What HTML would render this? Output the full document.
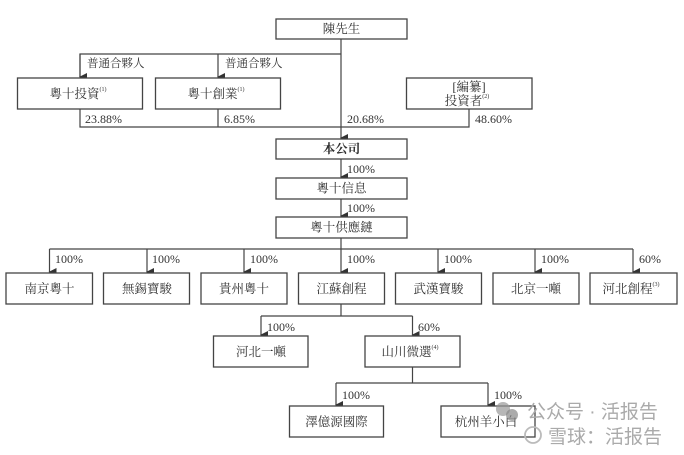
<!DOCTYPE html>
<html><head><meta charset="utf-8"><style>
html,body{margin:0;padding:0;background:#fff;}
svg{display:block;}
text{font-family:"Liberation Serif","Noto Serif CJK SC",serif;fill:#333;}
.b{fill:#fff;stroke:#444;stroke-width:1.3;}
.l{stroke:#444;stroke-width:1.2;fill:none;}
.t{font-size:12.5px;text-anchor:middle;dominant-baseline:central;}
.p{font-size:12px;}
.s{font-size:6px;}
.w{font-family:'Liberation Sans','Noto Sans CJK SC',sans-serif;font-size:19px;fill:#aaa;}
</style></head><body>
<svg width="684" height="455" viewBox="0 0 684 455" xmlns="http://www.w3.org/2000/svg">
<defs><marker id="a" markerWidth="8" markerHeight="8" refX="4" refY="7" orient="auto" markerUnits="userSpaceOnUse"><path d="M0,0 L8,0 L4,8 z" fill="#333"/></marker></defs>

<rect class="b" x="276" y="19" width="131" height="20"/>
<text class="t" x="341.5" y="29">陳先生</text>
<line class="l" x1="341" y1="39" x2="341" y2="138" marker-end="url(#a)"/>
<polyline class="l" points="80,77 80,54 341,54"/>
<line class="l" x1="80" y1="54" x2="80" y2="77" marker-end="url(#a)"/>
<line class="l" x1="218" y1="54" x2="218" y2="77" marker-end="url(#a)"/>
<text x="87" y="67" style="font-size:11.5px">普通合夥人</text>
<text x="225" y="67" style="font-size:11.5px">普通合夥人</text>

<rect class="b" x="17.5" y="78" width="125" height="31"/>
<text class="t" x="78" y="94">粵十投資<tspan class="s" dy="-4">(1)</tspan></text>
<rect class="b" x="155.5" y="78" width="125" height="31"/>
<text class="t" x="216" y="94">粵十創業<tspan class="s" dy="-4">(1)</tspan></text>
<rect class="b" x="406.5" y="78" width="125.5" height="31"/>
<text class="t" x="469" y="87">[編纂]</text>
<text class="t" x="467" y="101">投資者<tspan class="s" dy="-4">(2)</tspan></text>

<polyline class="l" points="80,109 80,127 469,127 469,109"/>
<line class="l" x1="218" y1="109" x2="218" y2="127"/>
<text class="p" x="85" y="123">23.88%</text>
<text class="p" x="224" y="123">6.85%</text>
<text class="p" x="347" y="123">20.68%</text>
<text class="p" x="475" y="123">48.60%</text>

<rect class="b" x="276" y="139" width="131" height="20"/>
<text class="t" x="341.5" y="149" style="font-weight:bold">本公司</text>
<line class="l" x1="341" y1="159" x2="341" y2="177" marker-end="url(#a)"/>
<text class="p" x="347" y="173">100%</text>
<rect class="b" x="276" y="178" width="131" height="21"/>
<text class="t" x="341.5" y="188.5">粵十信息</text>
<line class="l" x1="341" y1="199" x2="341" y2="216" marker-end="url(#a)"/>
<text class="p" x="347" y="212">100%</text>
<rect class="b" x="276" y="217" width="131" height="21"/>
<text class="t" x="341.5" y="227.5">粵十供應鏈</text>

<line class="l" x1="341" y1="238" x2="341" y2="249"/>
<line class="l" x1="49.5" y1="249" x2="633" y2="249"/>
<line class="l" x1="49.5" y1="249" x2="49.5" y2="272" marker-end="url(#a)"/>
<line class="l" x1="147" y1="249" x2="147" y2="272" marker-end="url(#a)"/>
<line class="l" x1="244" y1="249" x2="244" y2="272" marker-end="url(#a)"/>
<line class="l" x1="341" y1="249" x2="341" y2="272" marker-end="url(#a)"/>
<line class="l" x1="438" y1="249" x2="438" y2="272" marker-end="url(#a)"/>
<line class="l" x1="535" y1="249" x2="535" y2="272" marker-end="url(#a)"/>
<line class="l" x1="633" y1="249" x2="633" y2="272" marker-end="url(#a)"/>
<text class="p" x="55" y="263">100%</text>
<text class="p" x="152" y="263">100%</text>
<text class="p" x="250" y="263">100%</text>
<text class="p" x="347" y="263">100%</text>
<text class="p" x="444" y="263">100%</text>
<text class="p" x="541" y="263">100%</text>
<text class="p" x="639" y="263">60%</text>

<rect class="b" x="6" y="273" width="86.5" height="31"/>
<text class="t" x="49.5" y="289">南京粵十</text>
<rect class="b" x="103.5" y="273" width="86" height="31"/>
<text class="t" x="147" y="289">無錫寶駿</text>
<rect class="b" x="201" y="273" width="86" height="31"/>
<text class="t" x="244" y="289">貴州粵十</text>
<rect class="b" x="298.5" y="273" width="86" height="31"/>
<text class="t" x="341.5" y="289">江蘇創程</text>
<rect class="b" x="395.5" y="273" width="86" height="31"/>
<text class="t" x="438.5" y="289">武漢寶駿</text>
<rect class="b" x="493" y="273" width="86" height="31"/>
<text class="t" x="536" y="289">北京一噸</text>
<rect class="b" x="590" y="273" width="87" height="31"/>
<text class="t" x="631" y="289">河北創程<tspan class="s" dy="-4">(3)</tspan></text>

<polyline class="l" points="341,304 341,316"/>
<line class="l" x1="261" y1="316" x2="412.5" y2="316"/>
<line class="l" x1="261" y1="316" x2="261" y2="335" marker-end="url(#a)"/>
<line class="l" x1="412.5" y1="316" x2="412.5" y2="335" marker-end="url(#a)"/>
<text class="p" x="267" y="331">100%</text>
<text class="p" x="418" y="331">60%</text>
<rect class="b" x="213.5" y="336" width="94.5" height="31"/>
<text class="t" x="261" y="352">河北一噸</text>
<rect class="b" x="365" y="336" width="95" height="31"/>
<text class="t" x="410" y="352">山川微選<tspan class="s" dy="-4">(4)</tspan></text>

<line class="l" x1="412.5" y1="367" x2="412.5" y2="383"/>
<line class="l" x1="336" y1="383" x2="488" y2="383"/>
<line class="l" x1="336" y1="383" x2="336" y2="405" marker-end="url(#a)"/>
<line class="l" x1="488" y1="383" x2="488" y2="405" marker-end="url(#a)"/>
<text class="p" x="342" y="399">100%</text>
<text class="p" x="494" y="399">100%</text>
<rect class="b" x="289.5" y="406" width="94" height="31"/>
<text class="t" x="336.5" y="422">澤億源國際</text>
<rect class="b" x="441" y="406" width="94" height="31"/>
<text class="t" x="486" y="422">杭州羊小白</text>

<circle cx="503" cy="409" r="7" fill="#999" opacity="0.7"/>
<circle cx="512" cy="415" r="6" fill="#888" opacity="0.7"/>
<text class="w" x="527" y="418">公众号 · 活报告</text>
<circle cx="533" cy="435" r="8" fill="none" stroke="#bbb" stroke-width="1.8"/>
<text class="w" x="548" y="443">雪球：活报告</text>
</svg>
</body></html>
